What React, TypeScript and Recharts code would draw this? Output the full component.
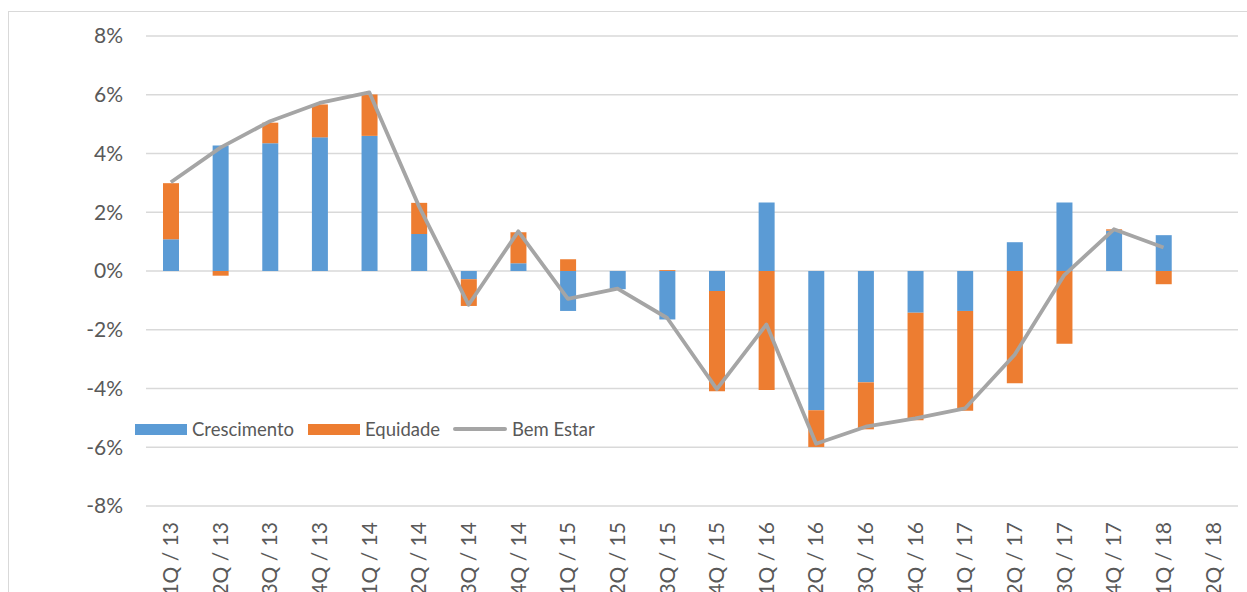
import React from "react";
import {
  ComposedChart,
  Bar,
  Line,
  XAxis,
  YAxis,
  CartesianGrid,
} from "recharts";

const categories = [
  "1Q / 13", "2Q / 13", "3Q / 13", "4Q / 13",
  "1Q / 14", "2Q / 14", "3Q / 14", "4Q / 14",
  "1Q / 15", "2Q / 15", "3Q / 15", "4Q / 15",
  "1Q / 16", "2Q / 16", "3Q / 16", "4Q / 16",
  "1Q / 17", "2Q / 17", "3Q / 17", "4Q / 17",
  "1Q / 18", "2Q / 18",
];

const crescimento: (number | null)[] = [
  1.08, 4.27, 4.35, 4.55, 4.6, 1.26, -0.28, 0.26, -1.36, -0.62, -1.65, -0.68,
  2.33, -4.74, -3.79, -1.42, -1.36, 0.98, 2.33, 1.37, 1.22, null,
];

const equidade: (number | null)[] = [
  1.91, -0.16, 0.7, 1.12, 1.41, 1.06, -0.91, 1.06, 0.4, 0, 0.03, -3.41,
  -4.05, -1.25, -1.6, -3.66, -3.4, -3.82, -2.48, 0.05, -0.45, null,
];

const bemEstar: (number | null)[] = [
  3.02, 4.2, 5.1, 5.72, 6.08, 2.2, -1.15, 1.35, -0.95, -0.6, -1.6, -4.02,
  -1.82, -5.88, -5.3, -5.02, -4.68, -2.85, -0.14, 1.42, 0.8, null,
];

const yTicks = [-8, -6, -4, -2, 0, 2, 4, 6, 8];

const data = categories.map((c, i) => ({
  cat: c,
  Crescimento: crescimento[i],
  Equidade: equidade[i],
  "Bem Estar": bemEstar[i],
}));

const FONT = "Lato, 'Open Sans', sans-serif";
const BLUE = "#5B9BD5";
const ORANGE = "#ED7D31";
const GRAY = "#A5A5A5";

const XTick = (props: any) => {
  const { x, y, payload } = props;
  const ty = y + 16;
  return (
    <text
      x={x}
      y={ty}
      transform={`rotate(-90, ${x}, ${ty})`}
      textAnchor="end"
      dy="0.35em"
      fill="#595959"
      fontSize={21}
      fontFamily={FONT}
    >
      {payload.value}
    </text>
  );
};

const legendItems = [
  { name: "Crescimento", color: BLUE, kind: "rect", left: 127 },
  { name: "Equidade", color: ORANGE, kind: "rect", left: 300 },
  { name: "Bem Estar", color: GRAY, kind: "line", left: 445 },
];

const LegendOverlay = () => (
  <div style={{ position: "absolute", left: 0, top: 409, width: 600, height: 24 }}>
    {legendItems.map((it) => (
      <div
        key={it.name}
        style={{
          position: "absolute",
          left: it.left,
          top: 0,
          display: "flex",
          alignItems: "center",
          height: 24,
          fontFamily: FONT,
          fontSize: 18.5,
          color: "#595959",
          whiteSpace: "nowrap",
        }}
      >
        {it.kind === "rect" ? (
          <div style={{ width: 52, height: 11, background: it.color }} />
        ) : (
          <div style={{ width: 54, height: 3.5, background: it.color, borderRadius: 2 }} />
        )}
        <span style={{ marginLeft: 5 }}>{it.name}</span>
      </div>
    ))}
  </div>
);

export default function App() {
  return (
    <div
      style={{
        position: "absolute",
        left: 8,
        top: 8,
        width: 1239,
        height: 584,
        overflow: "hidden",
        background: "#fff",
      }}
    >
      <div
        style={{
          position: "absolute",
          left: 0,
          top: 3,
          width: 1400,
          height: 800,
          border: "1px solid #d9d9d9",
          boxSizing: "border-box",
        }}
      />
      <div style={{ position: "absolute", left: 0, top: 0 }}>
        <ComposedChart
          width={1239}
          height={584}
          data={data}
          stackOffset="sign"
          margin={{ top: 28, right: 9, bottom: 0, left: 0 }}
          barCategoryGap={0}
        >
          <CartesianGrid
            horizontal={true}
            vertical={false}
            stroke="#d9d9d9"
            strokeWidth={1.4}
          />
          <XAxis
            dataKey="cat"
            axisLine={false}
            tickLine={false}
            tickSize={0}
            tickMargin={0}
            interval={0}
            height={86}
            tick={<XTick />}
          />
          <YAxis
            domain={[-8, 8]}
            ticks={yTicks}
            width={138}
            axisLine={false}
            tickLine={false}
            tickSize={0}
            tickMargin={23}
            tickFormatter={(v: number) => `${v}%`}
            tick={{ fill: "#595959", fontSize: 21, fontFamily: FONT }}
            allowDataOverflow={true}
          />
          <Bar
            dataKey="Crescimento"
            stackId="a"
            fill={BLUE}
            barSize={16}
            isAnimationActive={false}
          />
          <Bar
            dataKey="Equidade"
            stackId="a"
            fill={ORANGE}
            barSize={16}
            isAnimationActive={false}
          />
          <Line
            dataKey="Bem Estar"
            type="linear"
            stroke={GRAY}
            strokeWidth={3.8}
            strokeLinejoin="round"
            dot={false}
            activeDot={false}
            isAnimationActive={false}
          />
        </ComposedChart>
      </div>
      <LegendOverlay />
    </div>
  );
}
